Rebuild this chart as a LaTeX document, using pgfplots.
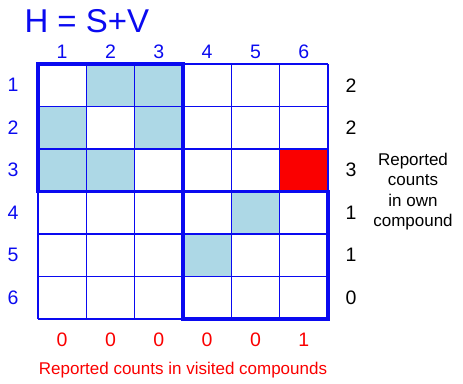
\documentclass[border=0pt]{standalone}
\usepackage{pgfplots}
\pgfplotsset{compat=1.18}
\usepackage{fontspec}
\setmainfont{Liberation Sans}
\definecolor{hblue}{RGB}{10,10,240}
\definecolor{cellblue}{RGB}{173,216,230}
\definecolor{hred}{RGB}{250,0,0}

\newcommand{\numfont}{\fontsize{19.5}{23}\selectfont}
\newcommand{\txtfont}{\fontsize{17}{20.5}\selectfont}

\begin{document}
\begin{tikzpicture}[x=1pt,y=1pt]
\path[use as bounding box] (-38,-64) rectangle (425,319);
\begin{axis}[
  at={(0,0)}, anchor=south west,
  width=290pt, height=255pt, scale only axis,
  xmin=0.5, xmax=6.5, ymin=0.5, ymax=6.5, y dir=reverse,
  axis line style={draw=none},
  xtick={0.5,1.5,2.5,3.5,4.5,5.5,6.5},
  ytick={0.5,1.5,2.5,3.5,4.5,5.5,6.5},
  xticklabels={}, yticklabels={}, major tick length=0pt,
  grid=major, grid style={hblue, line width=1.4pt},
  axis on top,
  colormap={hv}{rgb255=(255,255,255) rgb255=(173,216,230) rgb255=(250,0,0)},
  point meta min=0, point meta max=2,
  clip=false,
]
% cell state: 0 empty, 1 shared, 2 reported
\addplot[matrix plot*, mesh/cols=6, point meta=explicit] table[meta=c] {
x y c
1 1 0
2 1 1
3 1 1
4 1 0
5 1 0
6 1 0
1 2 1
2 2 0
3 2 1
4 2 0
5 2 0
6 2 0
1 3 1
2 3 1
3 3 0
4 3 0
5 3 0
6 3 2
1 4 0
2 4 0
3 4 0
4 4 0
5 4 1
6 4 0
1 5 0
2 5 0
3 5 0
4 5 1
5 5 0
6 5 0
1 6 0
2 6 0
3 6 0
4 6 0
5 6 0
6 6 0
};

% compound blocks
\draw[hblue, line width=3.6pt, line join=miter] (axis cs:0.5,0.5) rectangle (axis cs:3.5,3.5);
\draw[hblue, line width=3.6pt, line join=miter] (axis cs:3.5,3.5) rectangle (axis cs:6.5,6.5);

% labels
\pgfplotsinvokeforeach{1,...,6}{
  \node[hblue, font=\numfont, yshift=12pt] at (axis cs:#1,0.5) {#1};
  \node[hblue, font=\numfont, xshift=-25pt] at (axis cs:0.5,#1) {#1};
}
\node[black, font=\numfont, xshift=23pt] at (axis cs:6.5,1) {2};
\node[black, font=\numfont, xshift=23pt] at (axis cs:6.5,2) {2};
\node[black, font=\numfont, xshift=23pt] at (axis cs:6.5,3) {3};
\node[black, font=\numfont, xshift=23pt] at (axis cs:6.5,4) {1};
\node[black, font=\numfont, xshift=23pt] at (axis cs:6.5,5) {1};
\node[black, font=\numfont, xshift=23pt] at (axis cs:6.5,6) {0};
\node[hred, font=\numfont, yshift=-21pt] at (axis cs:1,6.5) {0};
\node[hred, font=\numfont, yshift=-21pt] at (axis cs:2,6.5) {0};
\node[hred, font=\numfont, yshift=-21pt] at (axis cs:3,6.5) {0};
\node[hred, font=\numfont, yshift=-21pt] at (axis cs:4,6.5) {0};
\node[hred, font=\numfont, yshift=-21pt] at (axis cs:5,6.5) {0};
\node[hred, font=\numfont, yshift=-21pt] at (axis cs:6,6.5) {1};

\node[hred, font=\txtfont, yshift=-51pt] at (axis cs:3.5,6.5) {Reported counts in visited compounds};
\node[black, font=\txtfont, align=center, xshift=85pt] at (axis cs:6.5,3.5) {Reported\\counts\\in own\\compound};
\node[hblue, font=\fontsize{33}{38}\selectfont, anchor=west, xshift=-17pt, yshift=43pt] at (axis cs:0.5,0.5) {H = S+V};
\end{axis}
\end{tikzpicture}
\end{document}
